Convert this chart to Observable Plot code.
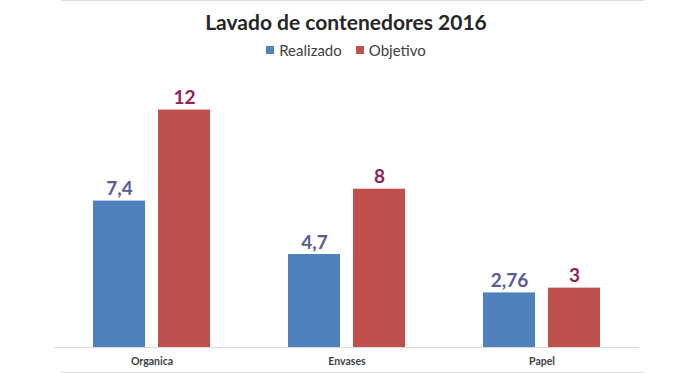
<!DOCTYPE html>
<html><head><meta charset="utf-8">
<script src="https://cdn.jsdelivr.net/npm/d3@7"></script>
<script src="https://cdn.jsdelivr.net/npm/@observablehq/plot@0.6"></script>
<style>
body{margin:0;background:#fff;font-family:Lato,"Open Sans",sans-serif;}
#wrap{position:relative;width:692px;height:373px;overflow:hidden;background:#fff;}
.frame{position:absolute;left:61px;width:583px;height:1px;background:#dcdcdc;}
#title{position:absolute;top:10px;left:0;width:692px;text-align:center;font-weight:bold;font-size:21px;line-height:24px;color:#262626;}
#legend{position:absolute;top:41px;left:0;width:692px;display:flex;justify-content:center;align-items:center;font-size:15px;line-height:18px;color:#404040;}
#legend .item{display:flex;align-items:center;margin:0 7px;}
#legend .sw{width:8px;height:8px;margin-right:5px;}
#chart{position:absolute;top:70px;left:0;}
#chart g[aria-label="fx-axis tick label"] text{font-weight:bold;}
</style>
</head><body>
<div id="wrap">
  <div class="frame" style="top:0px"></div>
  <div class="frame" style="top:372px"></div>
  <div id="title">Lavado de contenedores 2016</div>
  <div id="legend"></div>
  <div id="chart"></div>
</div>
<script>
const categories = ["Organica", "Envases", "Papel"];
const series = ["Realizado", "Objetivo"];
const realizado = [7.4, 4.7, 2.76];
const objetivo = [12, 8, 3];
const barColors = ["#4f81bd", "#c0504d"];
const labelColors = ["#5a5a98", "#8e2158"];

const data = [];
categories.forEach((c, i) => {
  data.push({cat: c, series: series[0], value: realizado[i]});
  data.push({cat: c, series: series[1], value: objetivo[i]});
});

const legend = document.getElementById("legend");
series.forEach((s, i) => {
  const it = document.createElement("div");
  it.className = "item";
  const sw = document.createElement("span");
  sw.className = "sw";
  sw.style.background = barColors[i];
  const t = document.createElement("span");
  t.textContent = s;
  it.appendChild(sw); it.appendChild(t);
  legend.appendChild(it);
});

const fmt = v => String(v).replace(".", ",");

const chart = Plot.plot({
  width: 692,
  height: 303,
  marginLeft: 54,
  marginRight: 53,
  marginTop: 0,
  marginBottom: 26,
  style: {fontFamily: "Lato, 'Open Sans', sans-serif", fontSize: "10.5px", color: "#404040", background: "transparent"},
  fx: {domain: categories, padding: 0, label: null, axis: "bottom", tickSize: 0, tickPadding: 10},
  x: {domain: series, paddingInner: 0.2, paddingOuter: 0.6, axis: null},
  y: {domain: [0, 14], axis: null},
  color: {domain: series, range: barColors},
  marks: [
    Plot.barY(data, {fx: "cat", x: "series", y: "value", fill: "series"}),
    Plot.ruleY([0], {stroke: "#d9d9d9"}),
    Plot.text(data, {
      fx: "cat", x: "series", y: "value",
      text: d => fmt(d.value),
      fill: d => labelColors[series.indexOf(d.series)],
      fontWeight: "bold", fontSize: 19,
      lineAnchor: "bottom", dy: -6
    })
  ]
});
document.getElementById("chart").appendChild(chart);
</script>
</body></html>
